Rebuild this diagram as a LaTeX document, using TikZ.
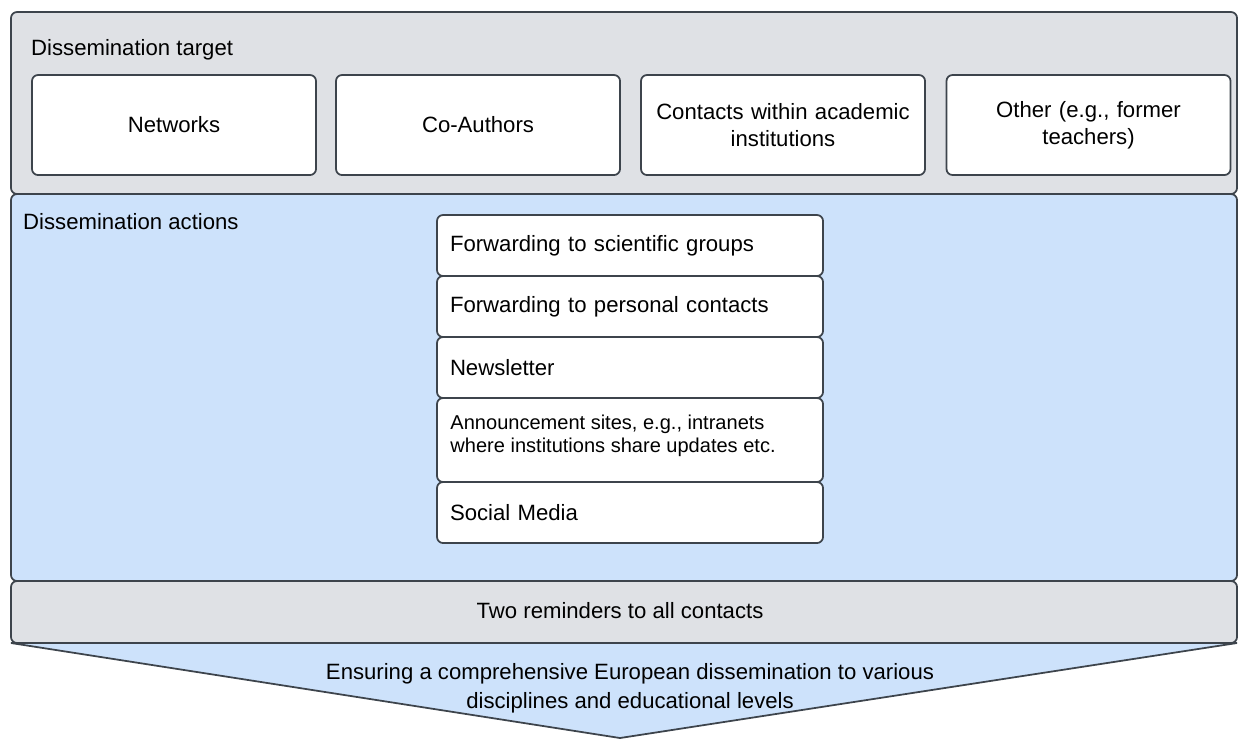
\documentclass[tikz,border=0pt]{standalone}
\usepackage{fontspec}
\setmainfont{Liberation Sans}
\definecolor{bggray}{HTML}{DFE1E5}
\definecolor{bgblue}{HTML}{CDE2FB}
\definecolor{edge}{HTML}{3D444C}
\tikzset{
  panel/.style={draw=edge,line width=1pt,rounded corners=0.12cm},
  target/.style={panel,fill=white,minimum width=5.68cm,minimum height=2cm,
    text width=5.4cm,align=center,font=\fontsize{12.6}{15.5}\selectfont},
  action/.style={panel,fill=white,minimum width=7.72cm,minimum height=1.22cm,
    text width=7.2cm,inner xsep=0.26cm,align=left,font=\fontsize{12.6}{15.5}\selectfont},
}
\begin{document}
\begin{tikzpicture}
	  \useasboundingbox (0,0) rectangle (24.78,-14.8);
	  % background bands
	  \draw[panel,fill=bgblue] (0.22,-3.88) rectangle (24.74,-11.62);
	  \draw[panel,fill=bggray] (0.22,-0.24) rectangle (24.74,-3.88);
	  \draw[panel,fill=bgblue,rounded corners=0pt] (0.22,-12.86) -- (24.74,-12.86) -- (12.4,-14.76) -- cycle;
	  \draw[panel,fill=bggray] (0.22,-11.62) rectangle (24.74,-12.86);
	  % labels of the bands
	  \node[anchor=west,font=\fontsize{12.6}{15.5}\selectfont] (ttarget) at (0.5,-1.0) {Dissemination target};
	  \node[anchor=west,font=\fontsize{12.6}{15.5}\selectfont] (tactions) at (0.34,-4.44) {Dissemination actions};
	  \node[font=\fontsize{12.6}{15.5}\selectfont] (remind) at (12.4,-12.22) {Two reminders to all contacts};
	  \node[align=center,font=\fontsize{12.6}{16.5}\selectfont] (goal) at (12.6,-13.76)
	    {Ensuring a comprehensive European dissemination to various\\disciplines and educational levels};
	  % targets
	  \node[target] (net) at (3.48,-2.5) {Networks};
	  \node[target] (coa) at (9.56,-2.5) {Co-Authors};
	  \node[target] (aca) at (15.66,-2.5) {Contacts within academic\\institutions};
	  \node[target] (oth) at (21.77,-2.5) {Other (e.g., former\\teachers)};
	  % actions
	  \node[action] (sci) at (12.6,-4.91) {Forwarding to scientific groups};
	  \node[action] (pers) at (12.6,-6.13) {Forwarding to personal contacts};
	  \node[action] (news) at (12.6,-7.35) {Newsletter};
	  \node[action,minimum height=1.68cm] (ann) at (12.6,-8.8) {};
	  \node[anchor=north west,inner sep=0pt,align=left,font=\fontsize{11.4}{13.2}\selectfont] (anntext)
	    at ([xshift=0.28cm,yshift=-0.34cm]ann.north west)
	    {Announcement sites, e.g., intranets\\where institutions share updates etc.};
	  \node[action] (soc) at (12.6,-10.25) {Social Media};
	\end{tikzpicture}
\end{document}
